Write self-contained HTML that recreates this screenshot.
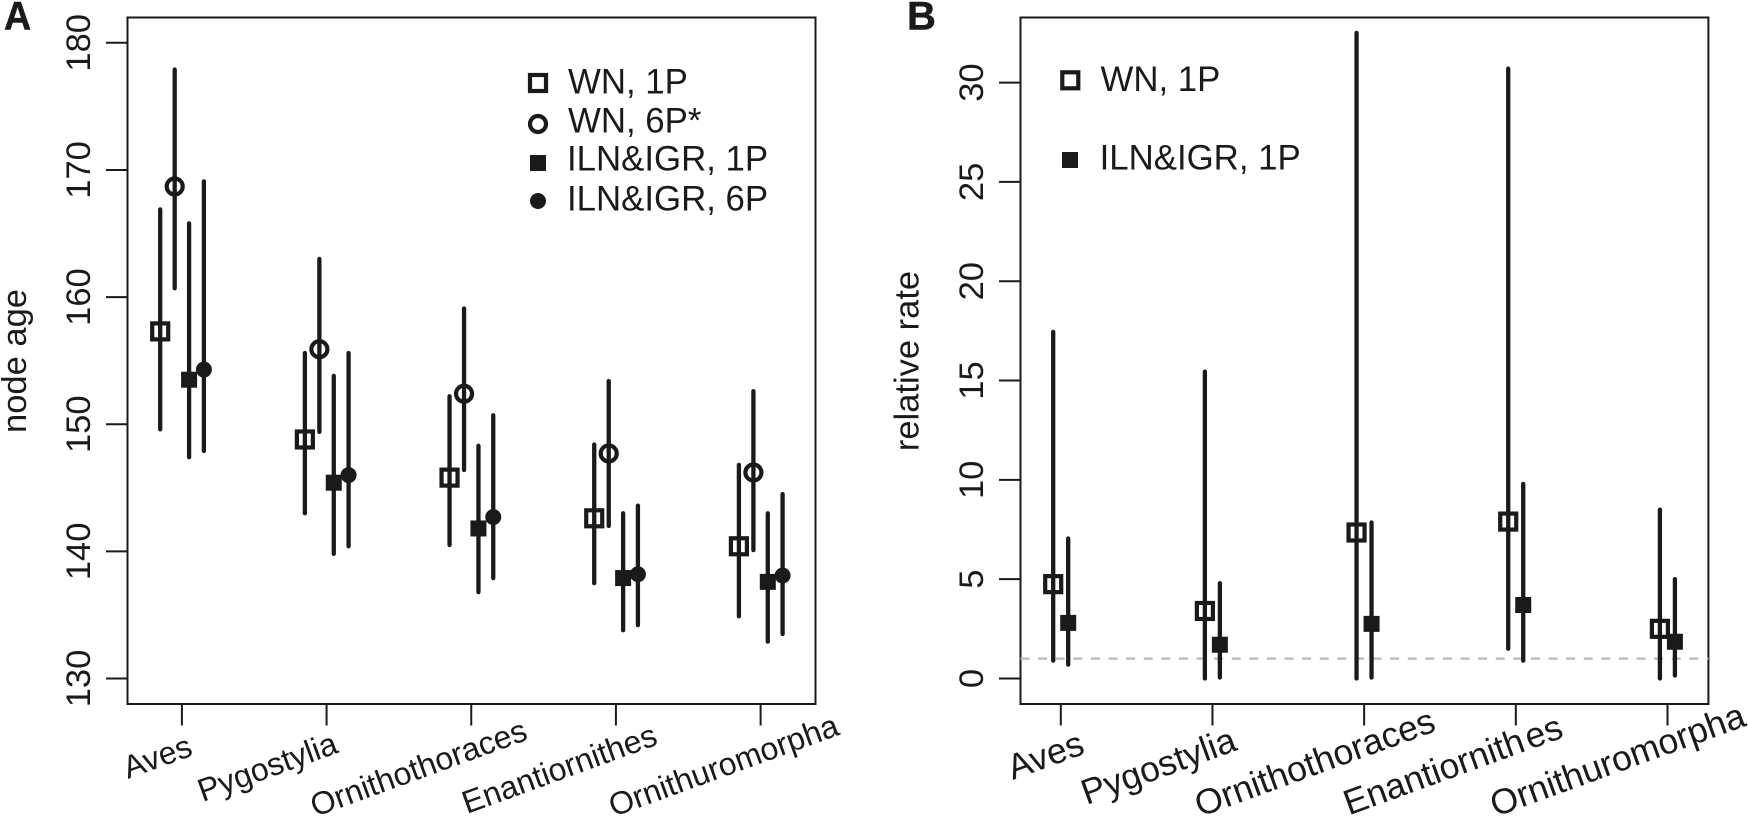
<!DOCTYPE html>
<html lang="en">
<head>
<meta charset="utf-8">
<title>Node age and relative rate</title>
<style>
html,body{margin:0;padding:0;background:#fff;width:1748px;height:817px;overflow:hidden}
svg{display:block;font-family:"Liberation Sans",sans-serif;fill:#1a1a1a}
</style>
</head>
<body>
<svg id="chart" xmlns="http://www.w3.org/2000/svg" width="1748" height="817" viewBox="0 0 1748 817">
  <rect x="0" y="0" width="1748" height="817" fill="#fff"/>
  <g id="panelA"></g>
  <g id="panelB"></g>

  <text transform="translate(4 29.3) scale(0.94 1)" font-size="40" font-weight="bold" stroke="#1a1a1a" stroke-width="0.5">A</text>
  <text x="907" y="29.3" font-size="40" font-weight="bold" stroke="#1a1a1a" stroke-width="0.5">B</text>

  <text transform="translate(26 361) rotate(-90)" text-anchor="middle" font-size="34.5">node age</text>
  <text transform="translate(918.5 361) rotate(-90)" text-anchor="middle" font-size="34.5">relative rate</text>

  <g font-size="34.8">
    <g>
      <rect x="530" y="75" width="16" height="16" fill="none" stroke="#1a1a1a" stroke-width="4.2"/>
      <text x="568" y="93.3">WN, 1P</text>
    </g>
    <g>
      <circle cx="538" cy="124" r="8" fill="none" stroke="#1a1a1a" stroke-width="4.2"/>
      <text x="568" y="132.7">WN, 6P*</text>
    </g>
    <g>
      <rect x="530" y="155" width="16" height="16"/>
      <text x="567" y="170.7">ILN&amp;IGR, 1P</text>
    </g>
    <g>
      <circle cx="538" cy="201" r="8"/>
      <text x="567" y="210.7">ILN&amp;IGR, 6P</text>
    </g>
  </g>

  <g font-size="34.8">
    <g>
      <rect x="1062.3" y="72.3" width="16" height="16" fill="none" stroke="#1a1a1a" stroke-width="4.2"/>
      <text x="1100.5" y="90.8">WN, 1P</text>
    </g>
    <g>
      <rect x="1062" y="152" width="16" height="16"/>
      <text x="1099.6" y="169.3">ILN&amp;IGR, 1P</text>
    </g>
  </g>
</svg>

<script>
const categories = ["Aves", "Pygostylia", "Ornithothoraces", "Enantiornithes", "Ornithuromorpha"];

const ageTicks = [130, 140, 150, 160, 170, 180];
const rateTicks = [0, 5, 10, 15, 20, 25, 30];

const ageWn1pMean = [157.3, 148.8, 145.8, 142.6, 140.4];
const ageWn1pLow = [149.6, 143.0, 140.5, 137.5, 134.9];
const ageWn1pHigh = [166.9, 155.6, 152.2, 148.4, 146.8];

const ageWn6pMean = [168.7, 155.9, 152.4, 147.7, 146.2];
const ageWn6pLow = [160.7, 149.4, 146.4, 142.0, 140.1];
const ageWn6pHigh = [177.9, 163.0, 159.1, 153.4, 152.6];

const ageIln1pMean = [153.5, 145.4, 141.8, 137.9, 137.6];
const ageIln1pLow = [147.4, 139.8, 136.8, 133.8, 132.9];
const ageIln1pHigh = [165.8, 153.8, 148.3, 143.0, 143.0];

const ageIln6pMean = [154.3, 146.0, 142.7, 138.2, 138.1];
const ageIln6pLow = [147.9, 140.4, 137.9, 134.2, 133.5];
const ageIln6pHigh = [169.1, 155.6, 150.7, 143.6, 144.5];

const rateWn1pMean = [4.75, 3.4, 7.35, 7.9, 2.5];
const rateWn1pLow = [0.9, 0.0, 0.0, 1.5, 0.0];
const rateWn1pHigh = [17.45, 15.45, 32.5, 30.7, 8.5];

const rateIln1pMean = [2.8, 1.7, 2.75, 3.7, 1.85];
const rateIln1pLow = [0.7, 0.05, 0.05, 0.9, 0.15];
const rateIln1pHigh = [7.05, 4.8, 7.85, 9.8, 5.0];

const referenceRate = 1;

const SVG_NS = "http://www.w3.org/2000/svg";
const INK = "#1a1a1a";

function make(parent, tag, attrs) {
  const el = document.createElementNS(SVG_NS, tag);
  for (const key in attrs) el.setAttribute(key, attrs[key]);
  parent.appendChild(el);
  return el;
}

function linearScale(d0, r0, d1, r1) {
  return v => r0 + (v - d0) * (r1 - r0) / (d1 - d0);
}

function drawMarker(parent, kind, cx, cy, slug) {
  let el;
  if (kind === "open-square") {
    el = make(parent, "rect", { x: cx - 8, y: cy - 8, width: 16, height: 16, fill: "none", stroke: INK, "stroke-width": 4.2 });
  } else if (kind === "open-circle") {
    el = make(parent, "circle", { cx: cx, cy: cy, r: 8, fill: "none", stroke: INK, "stroke-width": 4.2 });
  } else if (kind === "filled-square") {
    el = make(parent, "rect", { x: cx - 8, y: cy - 8, width: 16, height: 16, fill: INK });
  } else {
    el = make(parent, "circle", { cx: cx, cy: cy, r: 8, fill: INK });
  }
  
  
}

function drawPanel(root, cfg) {
  const box = make(root, "rect", { x: cfg.left, y: cfg.top, width: cfg.right - cfg.left, height: cfg.bottom - cfg.top, fill: "none", stroke: INK, "stroke-width": 2 });
  
  

  cfg.yTicks.forEach(t => {
    const y = cfg.y(t);
    const tick = make(root, "line", { x1: cfg.left - 21.5, x2: cfg.left, y1: y, y2: y, stroke: INK, "stroke-width": 2 });
    
    
    const label = make(root, "text", { transform: "translate(" + (cfg.left - 37.5) + " " + y + ") rotate(-90)", "text-anchor": "middle", "font-size": 34.5 });
    label.textContent = t;
    
    
  });

  categories.forEach((name, i) => {
    const x = cfg.x(i);
    const tick = make(root, "line", { x1: x, x2: x, y1: cfg.bottom, y2: cfg.bottom + 21.5, stroke: INK, "stroke-width": 2 });
    
    
    const label = make(root, "text", {
      transform: "translate(" + (x + cfg.labelShift[i][0]) + " " + cfg.labelShift[i][1] + ") rotate(-20)",
      "font-size": cfg.labelSize
    });
    label.textContent = name;
    if (cfg.id === "b" && name === "Enantiornithes") label.setAttribute("dx", "0 0 0 0 0 0 0 0 0 0 0 0 3");
    
    
  });

  if (cfg.reference !== undefined) {
    const yr = cfg.y(cfg.reference);
    const ref = make(root, "line", { x1: cfg.left, x2: cfg.right, y1: yr, y2: yr, stroke: "#b8b8b8", "stroke-width": 2.2, "stroke-dasharray": "9 8.6" });
    
    
  }

  cfg.series.forEach(s => {
    categories.forEach((name, i) => {
      const x = cfg.x(i) + s.offset;
      const slug = cfg.id + '-' + s.key + '-' + i;
      const whisker = make(root, "line", { x1: x, x2: x, y1: cfg.y(s.low[i]), y2: cfg.y(s.high[i]), stroke: INK, "stroke-width": 4.3, "stroke-linecap": "round" });
      
      
      drawMarker(root, s.kind, x, cfg.y(s.mean[i]), slug);
    });
  });
}

drawPanel(document.getElementById("panelA"), {
  id: "a",
  left: 127.5, right: 815.5, top: 17.5, bottom: 704,
  x: linearScale(0, 181.9, 4, 760.6),
  y: linearScale(130, 678.5, 180, 42.8),
  yTicks: ageTicks,
  labelSize: 32,
  labelShift: [[-54, 779], [-124, 802], [-156, 817], [-149, 814], [-147, 817]],
  series: [
    { key: "wn-1p", kind: "open-square", offset: -21.7, mean: ageWn1pMean, low: ageWn1pLow, high: ageWn1pHigh },
    { key: "wn-6p", kind: "open-circle", offset: -7.2, mean: ageWn6pMean, low: ageWn6pLow, high: ageWn6pHigh },
    { key: "iln-igr-1p", kind: "filled-square", offset: 7.2, mean: ageIln1pMean, low: ageIln1pLow, high: ageIln1pHigh },
    { key: "iln-igr-6p", kind: "filled-circle", offset: 22, mean: ageIln6pMean, low: ageIln6pLow, high: ageIln6pHigh }
  ]
});

drawPanel(document.getElementById("panelB"), {
  id: "b",
  left: 1020.5, right: 1708.4, top: 17.5, bottom: 704,
  x: linearScale(0, 1060.8, 4, 1667.5),
  y: linearScale(0, 678.5, 30, 82.6),
  yTicks: rateTicks,
  reference: referenceRate,
  labelSize: 35.5,
  labelShift: [[-48, 780], [-126, 805], [-164, 817], [-167, 815.5], [-172, 817]],
  series: [
    { key: "wn-1p", kind: "open-square", offset: -7.6, mean: rateWn1pMean, low: rateWn1pLow, high: rateWn1pHigh },
    { key: "iln-igr-1p", kind: "filled-square", offset: 7.4, mean: rateIln1pMean, low: rateIln1pLow, high: rateIln1pHigh }
  ]
});
</script>
</body>
</html>
